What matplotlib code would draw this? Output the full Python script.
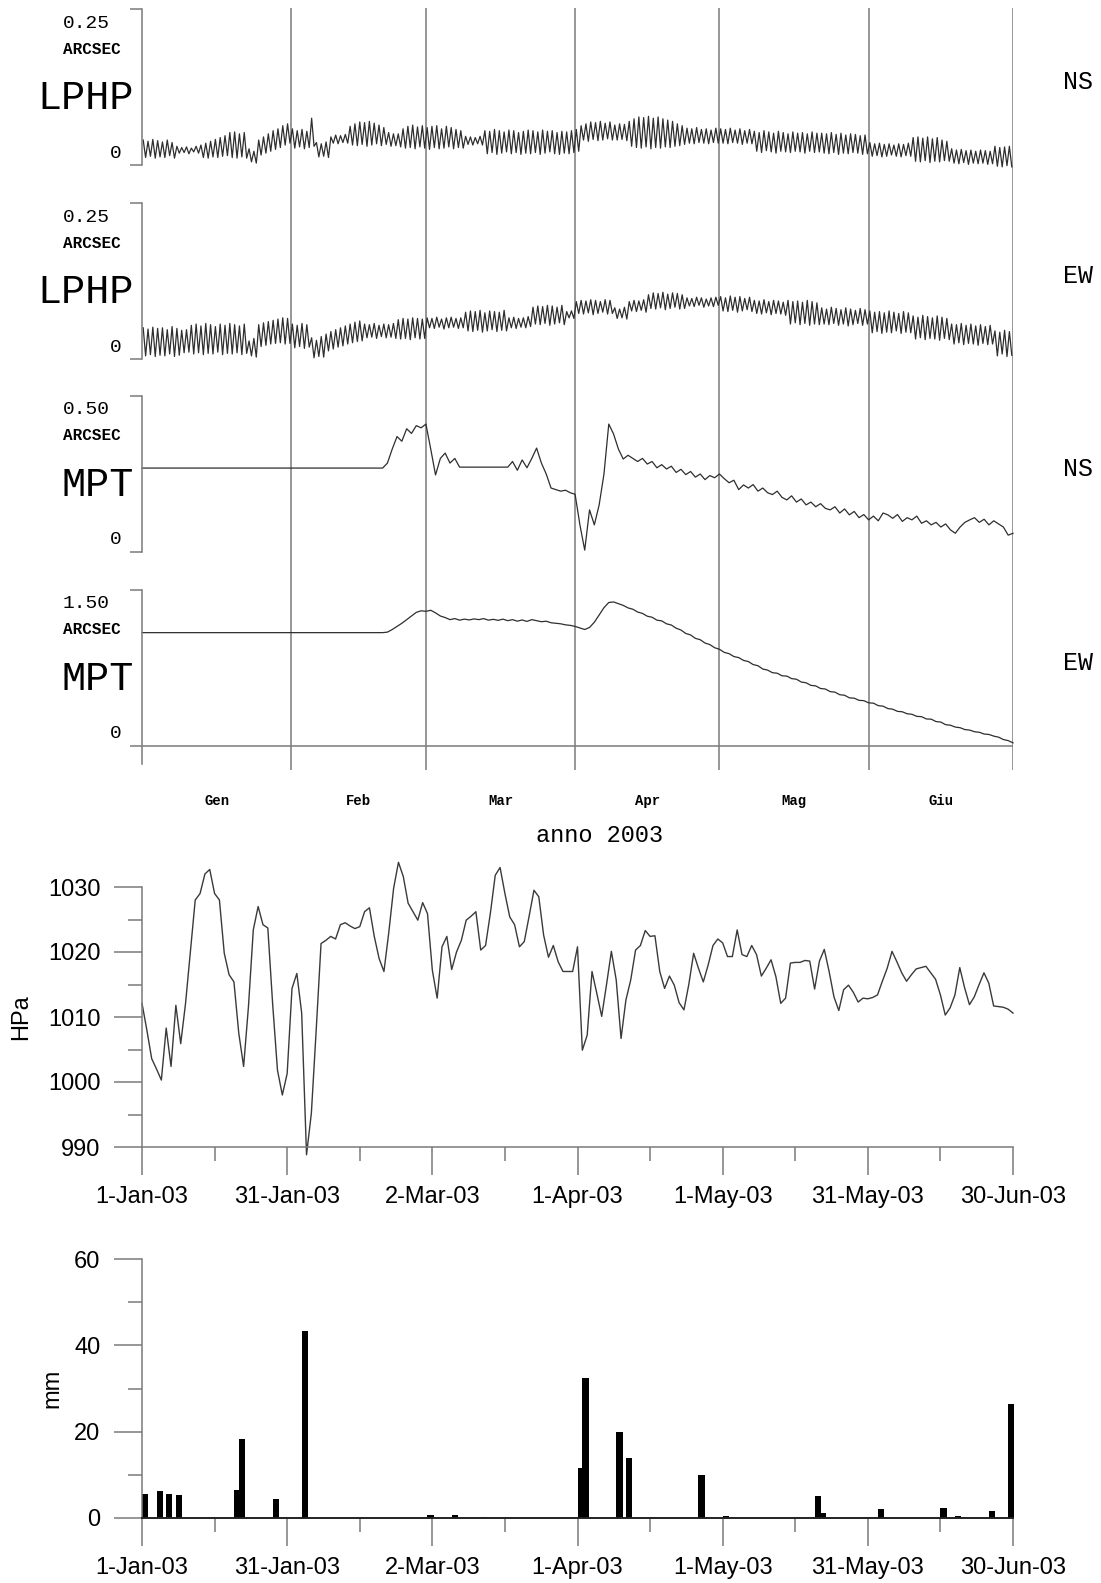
import matplotlib
matplotlib.use("Agg")
import matplotlib.pyplot as plt
import matplotlib.transforms as mtransforms
import numpy as np

plt.rcParams["font.family"] = "Liberation Sans"

# ---------------- data ----------------
# tilt values in milli-arcsec, one daily high and one daily low (1 Jan .. 30 Jun 2003)
lphp_ns_hi = [40, 38, 41, 39, 37, 40, 36, 30, 28, 29, 27, 30, 32, 35, 38, 41, 44, 47,
              52, 53, 50, 52, 26, 22, 40, 45, 50, 55, 58, 63, 66, 58, 55, 57, 54, 75,
              36, 34, 37, 45, 48, 47, 49, 62, 66, 69, 68, 70, 67, 64, 60, 52, 50, 50,
              58, 62, 64, 61, 63, 60, 62, 63, 58, 62, 60, 57, 55, 46, 45, 44, 46,
              55, 54, 57, 55, 53, 56, 55, 52, 54, 56, 55, 53, 56, 54, 55, 52, 54, 53, 55, 57,
              63, 66, 69, 68, 70, 67, 69, 64, 66, 65,
              70, 74, 77, 76, 78, 75, 77, 74, 72, 70, 66, 63, 59, 58, 60, 57, 58, 56, 59,
              58, 57, 59, 56, 58, 55, 57, 54, 52, 55, 53, 51, 54, 52, 50, 53, 51, 52, 50, 53, 51,
              51, 50, 52, 49, 51, 48, 50, 49, 47, 48, 36, 34, 35, 33, 34, 32, 34, 33, 35,
              44, 45, 43, 45, 42, 44, 40, 38, 26, 24, 25, 23, 24, 22, 24, 23, 22, 30, 28, 29, 30]
lphp_ns_lo = [12, 14, 11, 13, 12, 15, 11, 19, 20, 18, 21, 19, 12, 11, 13, 12, 14, 15,
              12, 11, 13, 11, 5, 3, 16, 19, 22, 25, 28, 32, 35, 27, 29, 26, 28, 30,
              13, 14, 12, 35, 34, 36, 35, 32, 31, 33, 30, 32, 34, 31, 33, 30, 31, 29,
              27, 28, 26, 29, 27, 25, 28, 26, 27, 29, 26, 28, 27, 33, 32, 34, 32,
              18, 20, 17, 19, 21, 18, 20, 17, 19, 18, 20, 17, 19, 21, 18, 17, 19, 18, 20, 22,
              40, 38, 41, 39, 40, 42, 40, 40, 41, 39,
              30, 28, 27, 29, 26, 28, 27, 29, 28, 30, 31, 33, 35, 34, 36, 35, 34, 36, 35,
              35, 34, 36, 35, 33, 35, 34, 22, 20, 23, 21, 19, 22, 21, 20, 22, 21, 19, 22, 20, 21,
              19, 18, 20, 17, 19, 18, 20, 19, 17, 18, 14, 15, 13, 14, 16, 14, 13, 15, 14,
              6, 5, 7, 4, 6, 5, 7, 6, 3, 2, 4, 1, 3, 2, 3, 1, 2, -2, -3, -1, -3]
lphp_ew_hi = [50, 48, 51, 49, 50, 47, 52, 49, 46, 47,
              54, 56, 53, 57, 55, 52, 56, 54, 57, 55, 53, 56, 29, 33,
              55, 58, 60, 62, 64, 66, 65, 56, 54, 57, 55, 34, 30, 36,
              40, 44, 47, 50, 53, 56, 59, 61, 56, 55, 57, 54, 56, 55, 57,
              63, 65, 64, 66, 65, 64, 66, 65, 67, 64, 66, 67, 65, 66,
              75, 77, 76, 78, 74, 77, 76, 75, 78, 66, 67, 65, 66, 68,
              83, 85, 84, 86, 85, 83, 86, 76, 77, 92, 94, 93, 95, 94, 92, 95, 94,
              82, 80, 83, 92, 94, 93, 95, 103, 106, 105, 107, 104, 106, 105, 103,
              98, 97, 99, 98, 96, 98, 99, 100, 98, 101, 99, 100, 97, 99,
              94, 93, 95, 92, 94, 93, 91, 94, 92, 93, 91, 94, 92, 90,
              82, 80, 83, 81, 79, 82, 80, 78, 81, 79, 77, 75, 76, 74, 77, 75, 73, 76, 74,
              69, 67, 70, 68, 66, 69, 67, 65, 56, 55, 57, 54, 56, 53, 55, 52, 54, 45, 43, 46, 44]
lphp_ew_lo = [5, 7, 4, 6, 5, 8, 4, 6, 10, 11,
              8, 10, 7, 9, 8, 11, 7, 9, 8, 10, 7, 9, 5, 3,
              20, 22, 24, 25, 26, 24, 25, 18, 20, 17, 19, 2, 4, 3,
              13, 16, 19, 21, 24, 26, 28, 29, 34, 35, 33, 36, 34, 35, 33,
              32, 33, 31, 34, 32, 33, 50, 49, 51, 48, 50, 51, 49, 50,
              45, 44, 46, 43, 45, 47, 44, 46, 45, 50, 49, 51, 50, 52,
              56, 55, 57, 54, 56, 58, 55, 66, 65, 73, 72, 74, 71, 73, 75, 72, 73,
              65, 66, 64, 77, 76, 78, 75, 81, 80, 82, 79, 81, 83, 80, 81,
              85, 84, 86, 83, 85, 84, 86, 77, 76, 78, 75, 77, 79, 76,
              73, 72, 74, 71, 73, 72, 70, 56, 58, 55, 57, 54, 56, 55,
              56, 55, 57, 54, 56, 53, 55, 57, 54, 56, 42, 44, 41, 43, 42, 45, 41, 43, 42,
              32, 34, 31, 33, 32, 30, 33, 31, 24, 26, 23, 25, 24, 22, 25, 23, 24, 5, 8, 4, 6]

# MPT: constant up to day 50, then daily values from day 51 (milli-arcsec)
mpt_ns_flat = 269
mpt_ns = [285, 330, 370, 355, 395, 380, 405, 398, 410, 330,
          247, 300, 317, 285, 300, 272, 272, 272, 272, 272,
          272, 272, 272, 272, 272, 272, 290, 262, 295, 270,
          300, 333, 285, 250, 205, 200, 195, 198, 190, 185,
          87, 6, 135, 87, 151, 250, 410, 378, 330, 298,
          310, 300, 290, 300, 282, 290, 270, 280, 266, 275,
          255, 265, 248, 258, 240, 250, 232, 245, 238, 250,
          235, 222, 230, 200, 215, 205, 216, 195, 205, 190,
          184, 195, 175, 167, 180, 160, 170, 151, 160, 145,
          155, 140, 135, 145, 125, 138, 119, 130, 110, 120,
          103, 115, 100, 125, 119, 108, 120, 98, 110, 103,
          115, 92, 100, 87, 95, 80, 90, 71, 60, 80,
          95, 103, 110, 95, 105, 87, 100, 90, 80, 54,
          60]
mpt_ew_flat = 1090
mpt_ew = [1095, 1120, 1150, 1180, 1215, 1250, 1285, 1300, 1295, 1305,
          1280, 1250, 1235, 1215, 1225, 1210, 1220, 1212, 1222, 1215,
          1225, 1210, 1218, 1208, 1220, 1205, 1215, 1200, 1212, 1198,
          1215, 1205, 1195, 1200, 1185, 1180, 1175, 1165, 1160, 1150,
          1135, 1120, 1140, 1190, 1260, 1330, 1380, 1385, 1368, 1352,
          1328, 1315, 1288, 1275, 1248, 1238, 1210, 1203, 1175, 1163,
          1133, 1115, 1082, 1068, 1035, 1022, 990, 975, 945, 930,
          900, 888, 860, 850, 823, 812, 783, 772, 740, 730,
          705, 700, 675, 672, 648, 642, 615, 608, 583, 578,
          553, 548, 523, 518, 493, 488, 463, 460, 439, 436,
          415, 412, 388, 383, 360, 354, 333, 329, 310, 305,
          285, 282, 260, 258, 235, 230, 205, 200, 182, 176,
          158, 153, 137, 132, 115, 111, 95, 85, 62, 52,
          30]
flat_days = [0, 50]
mpt_start = 51

panel_names = ["LPHP", "LPHP", "MPT", "MPT"]
panel_comp = ["NS", "EW", "NS", "EW"]
panel_max = ["0.25", "0.25", "0.50", "1.50"]

months = ["Gen", "Feb", "Mar", "Apr", "Mag", "Giu"]
month_days = [31, 28, 31, 30, 31, 30]

# daily pressure (hPa), 1 Jan .. 30 Jun 2003
pressure = [1012.1, 1008.0, 1003.6, 1002.0, 1000.3, 1008.3, 1002.4, 1011.8, 1005.9, 1012.1,
            1020.0, 1028.0, 1029.0, 1032.0, 1032.7, 1029.0, 1028.0, 1019.8, 1016.5, 1015.4,
            1007.5, 1002.4, 1011.6, 1023.4, 1027.0, 1024.2, 1023.7, 1012.0, 1001.8, 998.0,
            1001.3, 1014.4, 1016.7, 1010.6, 988.8, 995.2, 1008.0, 1021.3, 1021.8, 1022.4,
            1022.0, 1024.2, 1024.5, 1024.0, 1023.6, 1023.9, 1026.2, 1026.8, 1022.4, 1019.0,
            1017.0, 1023.0, 1029.8, 1033.8, 1031.6, 1027.5, 1026.2, 1024.9, 1027.6, 1025.9,
            1017.2, 1012.9, 1020.8, 1022.4, 1017.3, 1020.0, 1021.8, 1024.9, 1025.5, 1026.2,
            1020.3, 1021.0, 1026.0, 1031.8, 1033.0, 1029.0, 1025.4, 1024.2, 1020.8, 1021.6,
            1025.5, 1029.5, 1028.5, 1022.6, 1019.2, 1021.0, 1018.5, 1017.0, 1017.0, 1017.0,
            1020.8, 1004.9, 1007.2, 1017.0, 1013.6, 1010.1, 1015.0, 1020.1, 1015.7, 1006.7,
            1012.6, 1015.7, 1020.3, 1021.0, 1023.3, 1022.4, 1022.5, 1017.0, 1014.4, 1016.3,
            1014.9, 1012.2, 1011.1, 1015.0, 1019.8, 1017.5, 1015.4, 1018.0, 1021.0, 1022.0,
            1021.4, 1019.3, 1019.3, 1023.4, 1019.6, 1019.3, 1021.0, 1019.6, 1016.3, 1017.5,
            1018.8, 1016.2, 1012.1, 1012.9, 1018.3, 1018.4, 1018.4, 1018.7, 1018.6, 1014.3,
            1018.6, 1020.4, 1017.0, 1013.1, 1011.0, 1014.2, 1014.9, 1013.8, 1012.3, 1012.9,
            1012.8, 1013.0, 1013.4, 1015.5, 1017.5, 1020.1, 1018.5, 1016.8, 1015.5, 1016.5,
            1017.4, 1017.6, 1017.8, 1016.8, 1015.8, 1013.4, 1010.3, 1011.4, 1013.4, 1017.6,
            1014.5, 1011.9, 1013.1, 1015.0, 1016.8, 1015.2, 1011.7, 1011.6, 1011.5, 1011.2,
            1010.6]

# rainfall (mm), day index from 1 Jan
rain_days = [0, 3, 5, 7, 19, 20, 27, 33, 59, 64, 70, 90, 91, 98, 100, 115, 120,
             139, 140, 152, 165, 168, 175, 179]
rain_mm = [5.6, 6.2, 5.6, 5.3, 6.4, 18.2, 4.5, 43.4, 0.8, 0.8, 0.3, 11.5, 32.5, 20.0,
           14.0, 10.0, 0.4, 5.0, 1.2, 2.0, 2.3, 0.4, 1.6, 26.5]

date_ticks = [0, 30, 60, 90, 120, 150, 180]
date_labels = ["1-Jan-03", "31-Jan-03", "2-Mar-03", "1-Apr-03", "1-May-03",
               "31-May-03", "30-Jun-03"]

# ---------------- layout ----------------
W, H = 1101, 1583
fig = plt.figure(figsize=(W / 100, H / 100), dpi=100)


def box(l, t, r, b):
    return [l / W, 1 - b / H, (r - l) / W, (b - t) / H]


MONO = "Liberation Mono"
GRID = "#7a7a7a"
INK = "#2e2e2e"
ndays = sum(month_days)
edges = np.cumsum([0] + month_days)

# month separators running through all four tilt panels
bg = fig.add_axes(box(142, 8, 1013, 770), zorder=0)
bg.set_xlim(0, ndays)
bg.axis("off")
for e in edges[1:]:
    bg.axvline(e, color=GRID, lw=1.1)

trans = mtransforms.blended_transform_factory(bg.transData, fig.transFigure)
for i, m in enumerate(months):
    bg.text((edges[i] + edges[i + 1]) / 2, 1 - 801 / H, m, transform=trans,
            ha="center", va="center", family=MONO, weight="bold", fontsize=10)
fig.text(600 / W, 1 - 836 / H, "anno 2003", ha="center", va="center",
         family=MONO, fontsize=17)

# tilt series
t_half = np.arange(0, ndays, 0.5) + 0.25
series = [
    (t_half, np.ravel(np.column_stack([lphp_ns_hi, lphp_ns_lo])) / 1000.0),
    (t_half, np.ravel(np.column_stack([lphp_ew_hi, lphp_ew_lo])) / 1000.0),
    (np.r_[flat_days, np.arange(mpt_start, mpt_start + len(mpt_ns))],
     np.r_[[mpt_ns_flat] * len(flat_days), mpt_ns] / 1000.0),
    (np.r_[flat_days, np.arange(mpt_start, mpt_start + len(mpt_ew))],
     np.r_[[mpt_ew_flat] * len(flat_days), mpt_ew] / 1000.0),
]

tops = [9, 203, 396, 590]
span = 156
for k, top in enumerate(tops):
    bottom = top + span
    vmax = float(panel_max[k])
    extra = 18 if k == 3 else 0
    ax = fig.add_axes(box(142, top, 1013, bottom + extra), zorder=2)
    ax.patch.set_alpha(0)
    ax.set_xlim(0, ndays)
    ax.set_ylim(-vmax * extra / span, vmax)
    for s in ["top", "right", "bottom"]:
        ax.spines[s].set_visible(False)
    ax.spines["left"].set_color(GRID)
    ax.spines["left"].set_linewidth(1.1)
    ax.set_xticks([])
    ax.set_yticks([0, vmax])
    ax.set_yticklabels([])
    ax.tick_params(axis="y", length=8.6, width=1.1, color=GRID)
    if k == 3:
        ax.axhline(0, color=GRID, lw=1.1)
    x, y = series[k]
    ax.plot(x, y, color=INK, lw=0.9, clip_on=False)

    fig.text(110 / W, 1 - (top + 14) / H, panel_max[k], ha="right", va="center",
             family=MONO, fontsize=14)
    fig.text(121 / W, 1 - (top + 40) / H, "ARCSEC", ha="right", va="center",
             family=MONO, weight="bold", fontsize=11.5)
    fig.text(134 / W, 1 - (top + 89) / H, panel_names[k], ha="right", va="center",
             family=MONO, fontsize=29)
    fig.text(122 / W, 1 - (bottom - 12) / H, "0", ha="right", va="center",
             family=MONO, fontsize=14)
    fig.text(1078 / W, 1 - (top + 73) / H, panel_comp[k], ha="center", va="center",
             family=MONO, fontsize=18)


def style_axis(ax):
    for s in ["top", "right"]:
        ax.spines[s].set_visible(False)
    for s in ["left", "bottom"]:
        ax.spines[s].set_color(GRID)
        ax.spines[s].set_linewidth(1.1)
    ax.tick_params(which="major", length=20, width=1.1, color=GRID, labelsize=17)
    ax.tick_params(which="minor", length=10, width=1.1, color=GRID)
    ax.tick_params(axis="y", pad=10)
    ax.tick_params(axis="x", pad=8)
    ax.set_xlim(0, 180)
    ax.set_xticks(date_ticks)
    ax.set_xticklabels(date_labels)
    ax.set_xticks(np.arange(15, 180, 30), minor=True)


# pressure
axp = fig.add_axes(box(142, 887, 1013, 1147))
axp.plot(np.arange(len(pressure)), pressure, color="#3a3a3a", lw=1.0, clip_on=False)
style_axis(axp)
axp.set_ylim(990, 1030)
axp.set_yticks(np.arange(990, 1031, 10))
axp.set_yticks(np.arange(995, 1030, 10), minor=True)
axp.set_ylabel("HPa", fontsize=17, va="center")
axp.yaxis.set_label_coords(-0.139, 0.5)

# rainfall
axr = fig.add_axes(box(142, 1259, 1013, 1518))
axr.bar(rain_days, rain_mm, width=1.3, align="edge", color="black", clip_on=False)
style_axis(axr)
axr.spines["bottom"].set_color("#222222")
axr.spines["bottom"].set_linewidth(1.4)
axr.set_ylim(0, 60)
axr.set_yticks([0, 20, 40, 60])
axr.set_yticks([10, 30, 50], minor=True)
axr.set_ylabel("mm", fontsize=17, va="center")
axr.yaxis.set_label_coords(-0.103, 0.5)

fig.savefig("out.png", dpi=100)
